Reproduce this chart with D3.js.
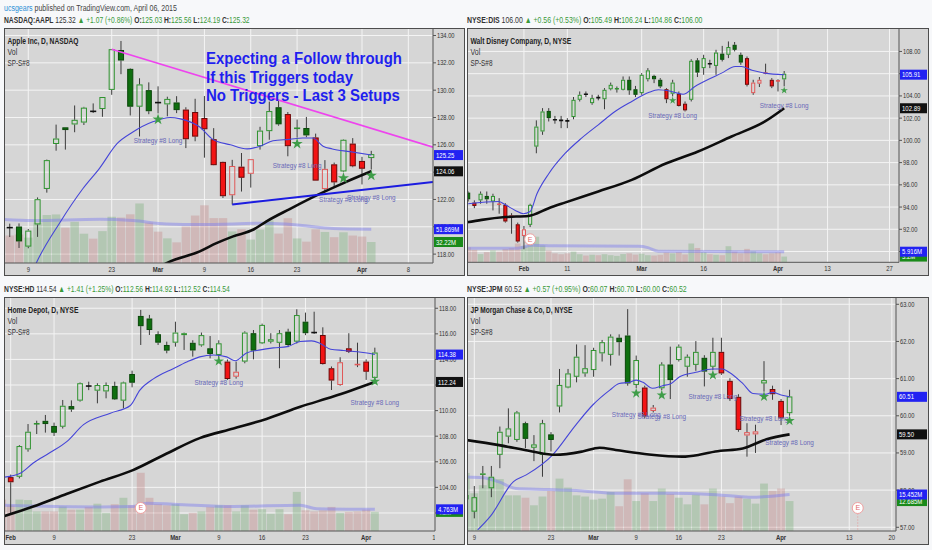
<!DOCTYPE html>
<html>
<head>
<meta charset="utf-8">
<script src="https://d3js.org/d3.v7.min.js"></script>
<style>
  body { margin: 0; background: #f7f8fa; }
  svg { display: block; }
  text { font-family: "Liberation Sans", Arial, sans-serif; white-space: pre; }
</style>
</head>
<body>
<svg id="chart" width="932" height="550"></svg>
<script>
// trading calendar (Apr 3 kept as a future slot, like the chart does)
const janDays = [20, 21, 22, 23, 26, 27, 28, 29, 30];
const febDays = [2, 3, 4, 5, 6, 9, 10, 11, 12, 13, 17, 18, 19, 20, 23, 24, 25, 26, 27];
const marDays = [2, 3, 4, 5, 6, 9, 10, 11, 12, 13, 16, 17, 18, 19, 20, 23, 24, 25, 26, 27, 30, 31];
const aprDays = [1, 2, 3, 6, 7, 8, 9, 10, 13, 14, 15, 16, 17, 20, 21, 22, 23, 24, 27, 28, 29, 30];

// quote header lines
const quoteSymbols = ["NASDAQ:AAPL", "NYSE:DIS", "NYSE:HD", "NYSE:JPM"];
const quoteLast = [125.32, 106.00, 114.54, 60.52];
const quoteChange = [1.07, 0.56, 1.41, 0.57];
const quotePct = [0.86, 0.53, 1.25, 0.95];
const quoteOHLC = [[125.03, 125.56, 124.19, 125.32], [105.49, 106.24, 104.86, 106.00],
                   [112.56, 114.92, 112.52, 114.54], [60.07, 60.70, 60.00, 60.52]];

// ---- AAPL ----  bars are [open, high, low, close] from aaplStart
const aaplStart = "Feb 4";
const aaplBars = [
  [118.50,120.51,118.31,119.56],[120.02,120.23,119.25,119.94],[120.02,120.25,118.45,118.93],
  [118.55,119.84,118.43,119.72],[120.17,122.15,119.26,122.02],[122.77,124.92,122.50,124.88],
  [126.06,127.48,125.57,126.46],[127.28,127.28,125.65,127.08],[127.49,128.88,126.92,127.83],
  [127.63,128.78,127.45,128.72],[128.48,129.03,128.33,128.45],[128.62,129.50,128.05,129.50],
  [130.02,133.00,129.66,133.00],[132.94,133.60,131.17,132.17],[131.56,131.60,128.15,128.79],
  [128.79,130.87,126.61,130.42],[130.00,130.57,128.24,128.46],[129.25,130.28,128.30,129.09],
  [128.96,129.52,128.09,129.36],[129.10,129.56,128.32,128.54],[128.58,128.75,125.76,126.41],
  [128.40,129.37,126.26,126.60],[127.96,129.57,125.06,127.14],[126.41,127.22,124.52,124.51],
  [124.75,124.77,122.11,122.24],[122.31,124.90,121.63,124.45],[124.40,125.40,122.58,123.59],
  [123.88,124.95,122.87,124.95],[125.90,127.32,125.65,127.04],[127.00,129.16,126.37,128.47],
  [128.75,129.25,127.40,127.50],[128.25,128.40,125.16,125.90],[127.12,127.85,126.52,127.21],
  [127.23,128.04,126.56,126.69],[126.54,126.82,123.38,123.38],[122.76,124.88,122.60,124.24],
  [124.57,124.70,122.91,123.25],[124.05,126.40,124.00,126.37],[126.09,126.49,124.36,124.43],
  [124.82,125.12,123.10,124.25],[125.03,125.56,124.19,125.32]];
// u = green signal, d = red signal, k = neutral
const aaplSignal = "ukuuuuuuuukuuuuuu" + "kuudddddddduuuduudddud" + "du";
const aaplVolume = [70.1,42.2,43.7,38.9,62.0,73.6,74.5,54.3,63.2,44.9,37.4,48.9,70.9,69.7,74.7,91.3,62.0,
  48.1,37.8,31.7,56.0,72.8,88.5,68.9,68.9,48.4,51.8,35.9,51.3,65.3,45.1,68.7,37.7,32.8,51.7,47.6,39.6,47.1,42.1,
  40.6,32.22];
// lines: [calendar position, value]
const aaplFast = [[14.5,116.8],[14.9,117.4],[17.4,120.3],[19.9,122.8],[21.7,124.3],[23.6,126.1],[25.2,126.9],
  [27.5,127.7],[29.3,128.0],[30.4,127.9],[32.5,127.3],[33.9,126.4],[35.8,126.0],[37.6,125.7],[39.0,125.9],
  [40.4,126.3],[42.2,126.4],[43.6,126.5],[44.7,126.5],[45.8,125.9],[46.8,125.7],[48.7,125.5],[51,125.25]];
const aaplSlow = [[27.0,116.6],[29.1,117.4],[32.5,118.2],[34.3,118.8],[36.1,119.3],[38.3,119.8],[39.7,120.4],
  [42.2,121.3],[45.1,122.3],[48.0,123.2],[51,124.06]];
const aaplVolAvg = [[11,67],[14.5,65],[21.7,67],[25.3,65],[28.9,60],[32.5,59],[39.7,61],[43.3,58],[46.9,53],[51,51.869]];
const aaplStars = ["Mar 2", "Mar 23", "Mar 30", "Apr 2"];
const aaplTicks = ["Feb 9", "Feb 23", "Mar 2", "Mar 9", "Mar 16", "Mar 23", "Apr 1", "Apr 8"];
const aaplResistance = [["Feb 23", 133.0], ["Mar 25", 128.45]];
const aaplSupport = [["Mar 12", 121.63], ["Mar 27", 122.47]];
const aaplNote = ["Expecting a Follow through", "If this Triggers today", "No Triggers - Last 3 Setups"];

// ---- DIS ----
const disStart = "Jan 20";
const disBars = [
  [95.3,95.4,94.5,94.7],[94.4,94.6,93.9,94.1],[94.6,95.4,94.3,95.2],[95.0,95.4,94.3,94.7],[94.5,95.2,93.7,95.0],
  [94.3,94.8,93.4,94.25],[94.2,94.35,92.6,92.7],[93.25,93.45,91.6,93.2],[92.45,92.6,90.8,90.9],[91.4,92.3,90.2,92.0],
  [92.4,94.3,92.2,94.2],[99.44,101.8,98.84,101.24],[100.8,102.9,100.5,102.6],[102.65,102.9,101.7,102.0],
  [101.9,102.2,101.5,101.85],[101.85,102.2,101.1,101.8],[101.8,102.0,101.1,101.75],[102.1,103.9,101.9,103.65],
  [103.65,104.4,103.5,104.1],[104.2,104.4,103.9,104.15],[103.35,104.1,103.2,103.8],[103.9,104.1,103.6,103.85],
  [103.7,104.7,102.8,104.55],[104.6,105.2,104.5,105.0],[104.55,104.85,104.3,104.65],[104.55,105.75,104.5,105.45],
  [105.45,105.75,104.1,104.5],[104.6,104.9,103.9,104.1],[104.25,106.05,104.1,105.9],[105.5,106.5,105.3,106.3],
  [105.8,105.9,105.15,105.5],[105.45,105.6,104.7,104.85],[104.6,104.7,103.35,103.7],[104.2,105.45,103.95,105.2],
  [104.2,104.4,103.05,103.1],[103.3,103.5,102.6,102.7],[103.65,107.3,103.5,107.16],[107.2,107.4,105.7,106.1],
  [106.5,107.7,105.9,107.4],[106.95,107.25,106.5,106.9],[106.7,108.15,105.9,107.9],[107.8,108.5,107.1,107.25],
  [107.7,108.9,107.4,108.4],[108.6,108.85,108.0,108.15],[107.7,107.9,106.8,107.0],[107.4,107.55,104.85,105.0],
  [104.25,105.45,104.1,105.2],[105.1,105.7,104.8,105.45],[106.1,106.9,105.95,106.05],[105.45,105.6,104.7,104.85],
  [105.4,105.5,104.4,105.35],[105.49,106.24,104.86,106.00]];
const disSignal = "uduuuddddd" + "uuuukkkuuk" + "ukuuuuuuuu" + "uududduuuk" + "uuuuuddddd" + "du";
const disVolume = [8.4,7.0,4.6,5.7,6.6,6.0,7.5,8.0,10.5,9.0, 11.0,14.3,9.5,6.5,5.0,4.5,5.0,6.0,4.5,3.8,
  4.2,4.0,4.5,4.0,3.6,4.6,5.0,4.3,4.8,4.0, 3.8,4.2,5.4,5.0,5.6,4.4,10.5,8.0,5.6,4.5,
  4.2,4.0,9.0,6.0,5.0,7.5,6.2,5.0,4.5,5.0, 5.5,3.2];
const disFast = [[0,94.3],[4.9,94.5],[6,94.2],[7.6,93.7],[8.9,93.4],[10,93.6],[11.1,95.2],[13,97.0],[15.6,98.8],
  [18.3,100.2],[21,101.4],[23.7,102.6],[26.4,103.5],[29.1,104.3],[30.7,104.55],[32.8,104.4],[34.7,104.15],
  [36.6,104.85],[38.8,105.5],[40.9,106.05],[43.1,106.65],[44.1,106.65],[45.8,106.3],[47.9,106.05],[51,105.91]];
const disSlow = [[-0.5,92.6],[2.2,92.85],[6,93.1],[9.7,93.2],[13,93.9],[15.6,94.4],[21,95.4],[26.4,96.45],
  [31.8,97.9],[37.1,99.0],[42.5,100.35],[47.9,101.7],[51,102.89]];
const disVolAvg = [[0,7.8],[8,7.9],[10.3,9.5],[13.5,9.2],[27.5,8.9],[29,8.2],[30.7,6.2],[40,6.0],[51,5.916]];
const disStars = ["Mar 9", "Apr 2"];
const disEarnings = ["Feb 3"];
const disTicks = ["Feb 2", "Feb 11", "Mar 2", "Mar 16", "Apr 1", "Apr 13", "Apr 27"];

// ---- HD ----
const hdStart = "Jan 30";
const hdBars = [
  [106.3,106.5,104.3,104.4],[104.8,105.0,102.0,104.4],[104.83,107.3,104.7,107.23],[106.97,108.95,106.79,108.35],
  [108.93,109.21,108.17,108.97],[109.2,109.66,108.28,108.95],[108.8,109.06,108.02,108.27],[108.74,110.83,108.6,110.38],
  [110.35,110.8,109.9,110.09],[110.78,112.2,110.7,112.14],[111.95,112.26,111.6,111.92],[111.56,112.14,110.57,112.0],
  [111.5,112.2,110.96,112.0],[111.93,112.26,110.83,110.88],[110.78,112.26,110.18,112.2],[112.86,113.12,111.82,112.18],
  [117.4,117.87,115.13,116.6],[117.2,117.48,115.91,116.3],[115.97,116.2,115.13,115.31],[115.13,115.39,114.48,114.69],
  [115.31,116.95,115.0,116.1],[115.9,116.1,114.74,116.05],[115.3,115.5,114.22,114.7],[115.1,116.1,115.0,115.9],
  [114.87,115.83,114.09,114.43],[114.35,115.5,114.1,115.26],[113.83,114.0,112.4,112.47],[112.65,113.83,112.5,113.04],
  [113.83,116.2,113.7,116.1],[116.05,116.3,114.01,114.69],[115.26,116.8,115.2,116.7],[115.39,116.05,115.25,115.58],
  [115.3,116.3,113.31,116.05],[116.17,116.4,114.96,115.13],[115.39,117.92,115.25,117.47],[116.95,117.66,115.9,116.05],
  [116.14,117.73,116.0,116.1],[115.91,116.51,113.6,113.64],[113.31,113.45,111.61,112.35],[112.0,114.17,111.95,113.78],
  [114.87,116.05,114.5,114.6],[113.64,115.31,113.4,113.6],[113.83,114.0,112.4,113.04],[112.56,114.92,112.52,114.54]];
const hdSignal = "dduuuuuuuu" + "kuuuuuuuuu" + "uuuuuudduu" + "uuuuuukddd" + "dddu";
const hdVolume = [6.9,5.65,6.9,6.8,4.3,4.3,4.3,5.4,4.7,4.7, 5.3,6.0,4.0,5.9,7.3,5.65,12.8,7.3,5.9,5.65,
  5.9,3.7,4.0,4.3,5.3,5.65,5.65,4.3,5.65,4.7, 4.8,3.8,4.8,3.7,8.6,4.55,4.3,4.55,5.3,4.0, 4.2,4.3,4.7,4.2];
const hdFast = [[8.3,104.8],[10.1,105.1],[11.6,105.9],[13.5,106.7],[15.5,107.6],[17.4,108.9],[20.5,109.8],
  [22.8,110.4],[23.9,111.6],[25.5,112.5],[27.8,113.3],[29.3,113.8],[30.8,114.2],[32.4,114.35],[33.9,114.2],
  [34.9,113.9],[36.2,114.5],[37.8,114.75],[39.3,114.9],[40.9,115.0],[42.4,115.4],[43.7,115.45],[44.7,115.25],
  [45.9,114.8],[47.4,114.7],[49,114.6],[50.1,114.5],[51,114.38]];
const hdSlow = [[8.3,101.76],[11.6,102.5],[15.5,103.5],[19.3,104.45],[23.1,105.35],[27,106.65],[30.8,107.85],
  [34.7,108.6],[38.5,109.35],[42.4,110.3],[46.2,111.1],[51,112.24]];
const hdVolAvg = [[8.2,5.65],[11.6,5.5],[19.3,5.3],[23.1,5.4],[24.7,6.1],[27.8,5.9],[34.7,5.4],[42.4,5.65],[44.3,4.9],[51,4.763]];
const hdStars = ["Mar 9", "Apr 2"];
const hdEarnings = ["Feb 24"];
const hdTicks = ["Feb 2", "Feb 9", "Feb 23", "Mar 2", "Mar 9", "Mar 16", "Mar 23", "Apr 1", "Apr 13"];

// ---- JPM ----
const jpmStart = "Feb 6";
const jpmBars = [
  [57.75,58.0,57.6,57.87],[57.42,58.11,57.24,57.81],[58.41,58.65,58.05,58.45],[58.05,58.65,57.81,58.36],
  [58.95,59.71,58.59,59.57],[59.44,60.2,59.26,59.66],[59.35,60.13,59.3,60.09],[59.8,59.84,59.13,59.38],
  [59.14,59.48,58.78,59.23],[58.95,59.89,58.36,59.8],[59.5,59.56,59.04,59.35],[60.25,61.26,60.09,60.83],
  [60.76,61.26,60.74,61.14],[61.05,61.92,60.9,61.59],[61.14,61.9,61.05,61.28],[61.23,61.83,61.05,61.77],
  [61.68,62.04,61.46,61.98],[61.64,62.19,61.35,62.13],[62.1,62.19,61.62,61.98],[62.16,62.87,60.81,60.87],
  [60.83,61.62,60.74,61.5],[60.76,60.81,59.93,59.98],[60.13,60.29,60.09,60.22],[60.74,61.44,60.69,61.38],
  [61.38,61.86,60.45,60.96],[61.5,61.92,61.46,61.86],[61.32,61.65,61.05,61.59],[61.37,62.01,61.21,61.72],
  [61.56,61.63,60.79,61.19],[61.32,62.1,61.23,61.72],[61.72,62.1,61.1,61.14],[60.94,61.01,60.4,60.45],
  [60.51,60.58,59.57,59.62],[59.47,59.8,58.9,59.56],[59.5,59.76,59.0,59.58],[60.87,61.47,60.65,60.96],
  [60.72,60.81,60.43,60.58],[60.4,60.45,59.75,59.93],[60.07,60.70,60.00,60.52]];
const jpmSignal = "uuuuuuuuuu" + "uuuuuuuuuu" + "udduuuuuuu" + "ddddduddu";
const jpmVolume = [24.6,16.0,19.4,22.5,22.0,15.1,15.1,14.1,10.9,14.6, 17.0,22.2,18.4,15.1,14.6,13.3,13.7,16.5,10.5,21.9,
  12.7,16.0,12.7,18.0,15.7,14.1,11.3,15.4,11.3,18.0, 14.6,11.8,14.6,13.7,11.6,20.1,17.0,18.0,12.685];
const jpmFast = [[14.4,56.93],[15.9,57.3],[18.6,58.23],[20.1,58.41],[23.2,58.95],[25.9,59.75],[27.9,60.29],
  [29.9,60.69],[31,60.87],[32.2,60.9],[33,60.96],[33.8,60.9],[34.9,60.74],[36.1,60.81],[37.1,60.87],[38.1,61.05],
  [40,61.17],[42,61.26],[43.1,61.26],[43.9,61.17],[45.5,60.87],[46.7,60.6],[48.2,60.58],[49,60.63],[50,60.56],[51,60.51]];
const jpmSlow = [[13,59.35],[16.9,59.21],[20.8,59.04],[23.5,58.95],[26.7,59.04],[28.7,59.14],[30.6,59.08],
  [34.5,58.96],[38.4,58.9],[40.4,58.95],[42.3,59.04],[45.5,59.12],[48.3,59.37],[51,59.5]];
const jpmVolAvg = [[13,22.9],[15,22.6],[16.9,20.8],[18.9,18.0],[22.8,17.6],[26.7,17.0],[30.6,16.0],[36.5,16.0],
  [42.4,15.4],[46.3,14.3],[51,15.452]];
const jpmStars = ["Mar 9", "Mar 12", "Mar 20", "Mar 30", "Apr 2"];
const jpmEarnings = ["Apr 14"];
const jpmTicks = ["Feb 9", "Feb 23", "Mar 2", "Mar 9", "Mar 16", "Mar 23", "Apr 1", "Apr 13", "Apr 20"];

/*****************************************************************/

const calendar = [];
[["Jan", janDays], ["Feb", febDays], ["Mar", marDays], ["Apr", aprDays]].forEach(([m, list]) =>
  list.forEach((d, k) => calendar.push({label: `${m} ${d}`, tick: k === 0 ? m : String(d)})));
const dayIndex = new Map(calendar.map((d, i) => [d.label, i]));

const svg = d3.select("#chart");
const defs = svg.append("defs");
const upGreen = "#3a9a3a";
const fmt2 = d3.format(".2f");
const fmtVol = d3.format(".3~f");

const tones = {
  u: {body: "#0f6f0f", edge: "#0b470b", line: "#2f932f"},
  d: {body: "#f31414", edge: "#6a0808", line: "#e05858"},
  k: {body: "#111111", edge: "#111111", line: "#111111"}
};

// the screenshot is squeezed sideways, so every text gets a horizontal scale
function fit(text, x, y, width, squeeze) {
  const w = text.node().getComputedTextLength();
  const k = width ? width / w : squeeze;
  text.attr("transform", `translate(${x},${y}) scale(${k},1)`);
  return text;
}

const byline = svg.append("text").attr("font-size", 9).attr("fill", "#444");
byline.append("tspan").attr("fill", "#2d8fd5").text("ucsgears");
byline.append("tspan").text(" published on TradingView.com, April 06, 2015");
fit(byline, 4, 10.5, 173);

function quoteLine(k, x, y, width) {
  const t = svg.append("text").attr("font-size", 9).attr("fill", "#333");
  t.append("tspan").attr("font-weight", "bold").text(quoteSymbols[k]);
  t.append("tspan").text(` ${fmt2(quoteLast[k])} `);
  t.append("tspan").attr("fill", upGreen).text(`▲ +${fmt2(quoteChange[k])} (+${fmt2(quotePct[k])}%) `);
  ["O", "H", "L", "C"].forEach((lab, j) => {
    t.append("tspan").attr("font-weight", "bold").text((j ? " " : "") + lab + ":");
    t.append("tspan").attr("fill", upGreen).text(fmt2(quoteOHLC[k][j]));
  });
  fit(t, x, y, width);
}

const panels = [
  {name: "Apple Inc, D, NASDAQ", mark: "AAPL, D", brand: "Apple Inc", start: aaplStart, bars: aaplBars,
   signal: aaplSignal, volume: aaplVolume, fast: aaplFast, slow: aaplSlow, volAvg: aaplVolAvg,
   stars: aaplStars, earnings: [], ticks: aaplTicks, view: [11.38, 57.66], price: [117.35, 134.55], step: 2,
   box: {left: 4, top: 28, axisX: 433, right: 465, timeY: 263, bottom: 276}, volPx: 0.652,
   starGap: 6, noteGap: 21, quoteW: 246, titleW: 71,
   trends: [{pts: aaplResistance, color: "#ee44ee", width: 1.6}, {pts: aaplSupport, color: "#1c1ce0", width: 2}],
   note: aaplNote, noteAt: [206, 64.3], noteWidths: [196, 147, 194]},
  {name: "Walt Disney Company, D, NYSE", mark: "DIS, D", brand: "Walt Disney Company", start: disStart, bars: disBars,
   signal: disSignal, volume: disVolume, fast: disFast, slow: disSlow, volAvg: disVolAvg,
   stars: disStars, earnings: disEarnings, ticks: disTicks, view: [-0.19, 69.53], price: [89.03, 110.11], step: 2,
   box: {left: 467, top: 28, axisX: 899, right: 929, timeY: 262.3, bottom: 276}, volPx: 1.79,
   starGap: 4, noteGap: 15, quoteW: 236, titleW: 101},
  {name: "Home Depot, D, NYSE", mark: "HD, D", brand: "Home Depot", start: hdStart, bars: hdBars,
   signal: hdSignal, volume: hdVolume, fast: hdFast, slow: hdSlow, volAvg: hdVolAvg,
   stars: hdStars, earnings: hdEarnings, ticks: hdTicks, view: [8.227, 57.94], price: [100.59, 118.88], step: 2,
   box: {left: 4, top: 297, axisX: 435, right: 465, timeY: 531, bottom: 545}, volPx: 4.55,
   starGap: 3, noteGap: 21, quoteW: 226, titleW: 71},
  {name: "JP Morgan Chase & Co, D, NYSE", mark: "JPM, D", brand: "JP Morgan Chase & Co", start: jpmStart, bars: jpmBars,
   signal: jpmSignal, volume: jpmVolume, fast: jpmFast, slow: jpmSlow, volAvg: jpmVolAvg,
   stars: jpmStars, earnings: jpmEarnings, ticks: jpmTicks, view: [13.143, 63.49], price: [56.9, 63.196], step: 1,
   box: {left: 467, top: 297, axisX: 896, right: 929, timeY: 531, bottom: 545}, volPx: 2.36,
   starGap: 5, noteGap: 21, quoteW: 220, titleW: 102}
];

function drawPanel(p, n) {
  const b = p.box;
  const x = d3.scaleLinear().domain(p.view).range([b.left, b.axisX]);
  const y = d3.scaleLinear().domain(p.price).range([b.timeY, b.top]);
  const yv = d3.scaleLinear().domain([0, 100]).range([b.timeY, b.timeY - 100 * p.volPx]);
  const step = x(1) - x(0);
  const first = dayIndex.get(p.start);
  const bars = p.bars.map((r, k) => ({i: first + k, o: r[0], h: r[1], l: r[2], c: r[3], s: p.signal[k], v: p.volume[k]}));
  const lastBar = bars[bars.length - 1];
  const byDay = new Map(bars.map(d => [d.i, d]));

  quoteLine(n, b.left, b.top - 5.5, p.quoteW);

  const g = svg.append("g");
  g.append("rect").attr("x", b.left).attr("y", b.top).attr("width", b.right - b.left)
    .attr("height", b.bottom - b.top).attr("fill", "#d6d6d6");

  defs.append("clipPath").attr("id", "plot" + n).append("rect")
    .attr("x", b.left).attr("y", b.top).attr("width", b.axisX - b.left).attr("height", b.timeY - b.top);
  defs.append("clipPath").attr("id", "time" + n).append("rect")
    .attr("x", b.left).attr("y", b.timeY).attr("width", b.axisX - b.left).attr("height", b.bottom - b.timeY);
  const plot = g.append("g").attr("clip-path", `url(#plot${n})`);

  const priceTicks = d3.range(Math.ceil(p.price[0] / p.step) * p.step, p.price[1], p.step)
    .filter(v => y(v) > b.top + 4 && y(v) < b.timeY - 2);
  const dayTicks = p.ticks.map(t => dayIndex.get(t));

  // grid
  plot.selectAll(".hgrid").data(priceTicks).join("line")
    .attr("x1", b.left).attr("x2", b.axisX).attr("y1", d => y(d)).attr("y2", d => y(d))
    .attr("stroke", "#f4f4f4").attr("stroke-width", 1);
  plot.selectAll(".vgrid").data(dayTicks).join("line")
    .attr("x1", d => x(d)).attr("x2", d => x(d)).attr("y1", b.top).attr("y2", b.timeY)
    .attr("stroke", "#f4f4f4").attr("stroke-width", 1);

  // very faint watermark
  const cx = (b.left + b.axisX) / 2, cy = (b.top + b.timeY) / 2;
  fit(plot.append("text").attr("font-size", 50).attr("font-weight", "bold").attr("text-anchor", "middle")
    .attr("fill", "#000").attr("fill-opacity", 0.018).text(p.mark), cx, cy, null, 0.76);
  fit(plot.append("text").attr("font-size", 34).attr("text-anchor", "middle")
    .attr("fill", "#000").attr("fill-opacity", 0.018).text(p.brand), cx, cy + 48, null, 0.76);

  // volume
  plot.selectAll(".vol").data(bars).join("rect")
    .attr("x", d => x(d.i) - step * 0.46).attr("width", step * 0.92)
    .attr("y", d => yv(d.v)).attr("height", d => b.timeY - yv(d.v))
    .attr("fill", d => d.c >= d.o ? "rgb(80,160,80)" : "rgb(190,100,100)").attr("fill-opacity", 0.26);

  const line = scaleY => d3.line().x(d => x(d[0])).y(d => scaleY(d[1])).curve(d3.curveMonotoneX);
  plot.append("path").datum(p.volAvg).attr("d", line(yv)).attr("fill", "none")
    .attr("stroke", "#7c7cf0").attr("stroke-width", 3).attr("stroke-opacity", 0.45);

  // candles
  const bw = step * 0.66;
  plot.selectAll(".candle").data(bars).join("g").each(function (d) {
    const sel = d3.select(this);
    const t = tones[d.s];
    const cxp = x(d.i);
    const top = y(Math.max(d.o, d.c)), bot = y(Math.min(d.o, d.c));
    const flat = d.s === "k" || bot - top < 1.3;
    const wick = (y1, y2) => sel.append("line").attr("x1", cxp).attr("x2", cxp).attr("y1", y1).attr("y2", y2)
      .attr("stroke", "#3b3b3b").attr("stroke-width", 1);
    if (flat) {
      wick(y(d.h), y(d.l));
      sel.append("line").attr("x1", cxp - bw / 2).attr("x2", cxp + bw / 2).attr("y1", y(d.c)).attr("y2", y(d.c))
        .attr("stroke", d.s === "k" ? t.body : t.line).attr("stroke-width", 1.6);
      return;
    }
    wick(y(d.h), top);
    wick(bot, y(d.l));
    const body = sel.append("rect").attr("x", cxp - bw / 2 + 0.5).attr("y", top + 0.5)
      .attr("width", bw - 1).attr("height", Math.max(bot - top - 1, 0.5));
    if (d.c > d.o) body.attr("fill", "none").attr("stroke", t.line);
    else body.attr("fill", t.body).attr("stroke", t.edge);
  });

  // moving averages
  plot.append("path").datum(p.fast).attr("d", line(y)).attr("fill", "none")
    .attr("stroke", "#4545d8").attr("stroke-width", 1.1);
  plot.append("path").datum(p.slow).attr("d", line(y)).attr("fill", "none")
    .attr("stroke", "#0d0d0d").attr("stroke-width", 2.6);

  // hand drawn trend lines, run out to the right edge
  (p.trends || []).forEach(tr => {
    const [a, c] = tr.pts.map(([d, v]) => [dayIndex.get(d), v]);
    const slope = (c[1] - a[1]) / (c[0] - a[0]);
    const end = p.view[1];
    plot.append("line").attr("x1", x(a[0])).attr("y1", y(a[1]))
      .attr("x2", x(end)).attr("y2", y(a[1] + slope * (end - a[0])))
      .attr("stroke", tr.color).attr("stroke-width", tr.width);
  });

  // strategy signals
  const star = d3.symbol().type(d3.symbolStar).size(step * step * 0.45);
  p.stars.forEach(s => {
    const d = byDay.get(dayIndex.get(s));
    const sy = y(d.l) + p.starGap;
    fit(plot.append("text").attr("font-size", 8).attr("text-anchor", "middle").attr("fill", "#6a6ab8")
      .text("Strategy #8 Long"), x(d.i), sy + p.noteGap + 3, null, 0.8);
    plot.append("path").attr("d", star()).attr("transform", `translate(${x(d.i)},${sy})`).attr("fill", "#3f9d49");
  });

  // earnings flags
  p.earnings.forEach(e => {
    const i = dayIndex.get(e), ex = x(i), ey = b.timeY - 23;
    if (i > lastBar.i) {
      plot.append("line").attr("x1", ex).attr("x2", ex).attr("y1", ey + 5.5).attr("y2", b.timeY)
        .attr("stroke", "#e89a9a").attr("stroke-dasharray", "1,2");
    }
    plot.append("circle").attr("cx", ex).attr("cy", ey).attr("r", 5.5).attr("fill", "#fff").attr("stroke", "#eea0a0");
    plot.append("text").attr("x", ex).attr("y", ey).attr("dy", "0.35em").attr("text-anchor", "middle")
      .attr("font-size", 7).attr("fill", "#e06a6a").text("E");
  });

  if (p.note) {
    p.note.forEach((txt, k) => fit(plot.append("text").attr("font-size", 17).attr("font-weight", "bold")
      .attr("fill", "#1f1fee").text(txt), p.noteAt[0], p.noteAt[1] + k * 18.3, p.noteWidths[k]));
  }

  // titles
  fit(g.append("text").attr("font-size", 8.5).attr("font-weight", "bold").attr("fill", "#222").text(p.name),
    b.left + 3.5, b.top + 15.5, p.titleW);
  fit(g.append("text").attr("font-size", 8.5).attr("fill", "#333").text("Vol"), b.left + 3.5, b.top + 26.5, null, 0.82);
  fit(g.append("text").attr("font-size", 8.5).attr("fill", "#333").text("SP-S#8"), b.left + 3.5, b.top + 37.5, null, 0.75);

  // axes
  g.append("line").attr("x1", b.left).attr("x2", b.axisX).attr("y1", b.timeY).attr("y2", b.timeY).attr("stroke", "#555");
  g.append("line").attr("x1", b.axisX).attr("x2", b.axisX).attr("y1", b.top).attr("y2", b.timeY).attr("stroke", "#555");
  priceTicks.forEach(v => {
    g.append("line").attr("x1", b.axisX).attr("x2", b.axisX + 3).attr("y1", y(v)).attr("y2", y(v)).attr("stroke", "#555");
    fit(g.append("text").attr("font-size", 7).attr("fill", "#333").attr("dy", "0.35em").text(fmt2(v)),
      b.axisX + 4, y(v), null, 0.82);
  });
  const tl = g.append("g").attr("clip-path", `url(#time${n})`);
  dayTicks.forEach(i => {
    const lab = calendar[i].tick;
    fit(tl.append("text").attr("font-size", 7).attr("font-weight", isNaN(+lab) ? "bold" : "normal")
      .attr("text-anchor", "middle").attr("fill", "#333").text(lab), x(i), b.timeY + 9, null, 0.85);
  });

  // last value tags
  const tag = (yPos, txt, color) => {
    g.append("rect").attr("x", b.axisX + 1).attr("y", yPos - 5).attr("width", b.right - b.axisX - 3)
      .attr("height", 10).attr("fill", color);
    fit(g.append("text").attr("font-size", 7.5).attr("fill", "#fff").attr("dy", "0.35em").text(txt),
      b.axisX + 3, yPos, null, 0.8);
  };
  const lastAvg = p.volAvg[p.volAvg.length - 1][1];
  tag(yv(lastBar.v), fmtVol(lastBar.v) + "M", "#1a8a1a");
  tag(yv(lastAvg), fmtVol(lastAvg) + "M", "#2222f2");
  tag(y(p.slow[p.slow.length - 1][1]), fmt2(p.slow[p.slow.length - 1][1]), "#111");
  tag(y(p.fast[p.fast.length - 1][1]), fmt2(p.fast[p.fast.length - 1][1]), "#2222f2");

  g.append("rect").attr("x", b.left + 0.5).attr("y", b.top + 0.5).attr("width", b.right - b.left - 1)
    .attr("height", b.bottom - b.top - 1).attr("fill", "none").attr("stroke", "#4d4d4d");
}

panels.forEach(drawPanel);
</script>
</body>
</html>
